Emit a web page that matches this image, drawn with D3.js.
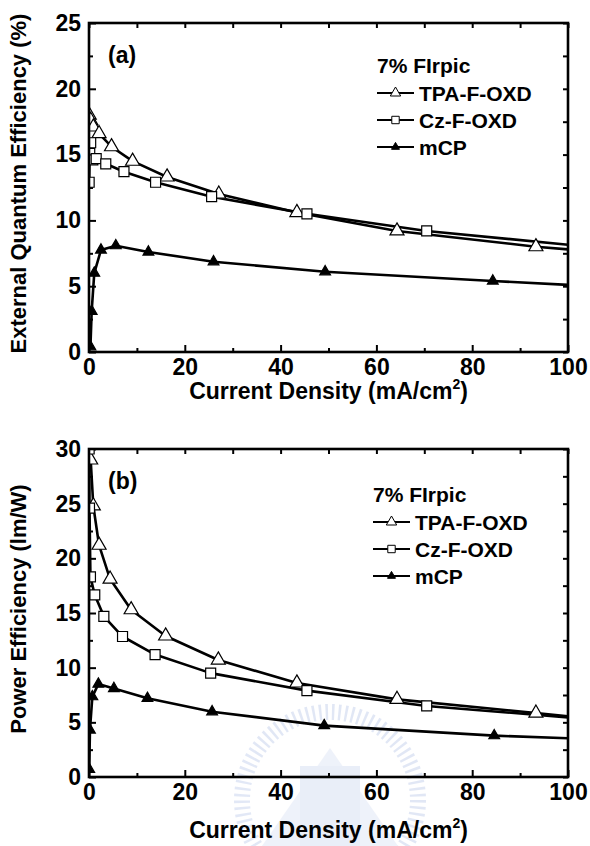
<!DOCTYPE html>
<html>
<head>
<meta charset="utf-8">
<script src="https://cdn.jsdelivr.net/npm/d3@7"></script>
<style>
  body { margin: 0; background: #fff; }
  svg text { font-family: "Liberation Sans", Arial, sans-serif; font-weight: bold; fill: #000; }
</style>
</head>
<body>
<div id="container"></div>
<script>
/* DATA */
const xTicks = [0, 20, 40, 60, 80, 100];
const xMinor = [10, 30, 50, 70, 90];
const eqeTicks = [0, 5, 10, 15, 20, 25];
const peTicks = [0, 5, 10, 15, 20, 25, 30];
const seriesNames = ["TPA-F-OXD", "Cz-F-OXD", "mCP"];
const dopant = "7% FIrpic";

// panel (a): external quantum efficiency (%)
const eqeTpaJ = [0.05, 0.35, 0.9, 2.1, 4.7, 9.1, 16.3, 27.1, 43.4, 64.3, 93.3, 100];
const eqeTpa  = [18.0, 17.6, 17.1, 16.6, 15.6, 14.5, 13.3, 12.0, 10.6, 9.2, 8.0, 7.8];
const eqeCzJ  = [0.03, 0.15, 0.35, 0.8, 1.5, 3.5, 7.3, 13.9, 25.6, 45.5, 70.5, 100];
const eqeCz   = [12.9, 15.1, 15.9, 14.6, 14.7, 14.3, 13.7, 12.9, 11.8, 10.5, 9.2, 8.15];
const eqeMcpJ = [0.3, 0.56, 1.1, 2.5, 5.6, 12.4, 26.0, 49.3, 84.3, 100];
const eqeMcp  = [0.4, 3.1, 6.0, 7.75, 8.08, 7.6, 6.86, 6.1, 5.4, 5.1];

// panel (b): power efficiency (lm/W)
const peTpaJ = [0.05, 0.35, 0.9, 2.1, 4.4, 8.8, 16.0, 27.0, 43.4, 64.3, 93.3, 100];
const peTpa  = [31.0, 29.0, 24.8, 21.2, 18.1, 15.3, 12.9, 10.7, 8.6, 7.1, 5.85, 5.55];
const peCzJ  = [0.03, 0.1, 0.3, 1.2, 3.1, 7.0, 13.8, 25.4, 45.5, 70.5, 100];
const peCz   = [30.0, 24.6, 18.3, 16.65, 14.7, 12.85, 11.2, 9.5, 7.9, 6.5, 5.45];
const peMcpJ = [0.05, 0.2, 0.7, 1.95, 5.2, 12.2, 25.7, 49.1, 84.6, 100];
const peMcp  = [0.7, 4.3, 7.35, 8.5, 8.1, 7.2, 5.97, 4.7, 3.78, 3.55];

/* LAYOUT */
const width = 590, height = 846;
const left = 89, right = 568;

const svg = d3.select("#container").append("svg")
  .attr("width", width).attr("height", height);

// faint watermark behind the lower panel
const wm = svg.append("g").attr("opacity", 0.3);
wm.append("circle").attr("cx", 330).attr("cy", 800).attr("r", 88)
  .attr("fill", "none").attr("stroke", "#9fb3e0").attr("stroke-width", 16)
  .attr("stroke-dasharray", "2.5 4");
wm.append("path").attr("d", "M262,846 L330,748 L398,846 Z")
  .attr("fill", "#c9d5f0");
wm.append("rect").attr("x", 300).attr("y", 766).attr("width", 60).attr("height", 80)
  .attr("fill", "#b8c8ea");

const x = d3.scaleLinear().domain([0, 100]).range([left, right]);

const zip = (js, vs) => js.map((j, i) => ({ j, v: vs[i] }));

function panel(cfg) {
  const y = d3.scaleLinear().domain(cfg.domain).range([cfg.bottom, cfg.top]);
  const g = svg.append("g");
  const clipId = "clip-" + cfg.id;
  svg.append("clipPath").attr("id", clipId).append("rect")
    .attr("x", left).attr("y", cfg.top)
    .attr("width", right - left).attr("height", cfg.bottom - cfg.top);

  // ticks (inward, all four sides)
  const minorY = d3.range(cfg.domain[0] + 2.5, cfg.domain[1], 5);
  const tickStyle = sel => {
    sel.select(".domain").remove();
    sel.selectAll("line").attr("stroke", "#000").attr("stroke-width", 2);
  };
  g.append("g").attr("transform", `translate(0,${cfg.bottom})`)
    .call(d3.axisBottom(x).tickValues(xTicks).tickSizeInner(-7).tickSizeOuter(0).tickPadding(7))
    .call(tickStyle)
    .call(a => a.selectAll("text").attr("font-size", 23).attr("dy", "0.71em"));
  g.append("g").attr("transform", `translate(0,${cfg.bottom})`)
    .call(d3.axisBottom(x).tickValues(xMinor).tickSizeInner(-4).tickSizeOuter(0).tickFormat(""))
    .call(tickStyle);
  g.append("g").attr("transform", `translate(0,${cfg.top})`)
    .call(d3.axisTop(x).tickValues(xTicks.concat(xMinor)).tickSizeInner(-5).tickSizeOuter(0).tickFormat(""))
    .call(tickStyle);
  g.append("g").attr("transform", `translate(${left},0)`)
    .call(d3.axisLeft(y).tickValues(cfg.ticks).tickSizeInner(-7).tickSizeOuter(0).tickPadding(8))
    .call(tickStyle)
    .call(a => a.selectAll("text").attr("font-size", 23));
  g.append("g").attr("transform", `translate(${left},0)`)
    .call(d3.axisLeft(y).tickValues(minorY).tickSizeInner(-4).tickSizeOuter(0).tickFormat(""))
    .call(tickStyle);
  g.append("g").attr("transform", `translate(${right},0)`)
    .call(d3.axisRight(y).tickValues(cfg.ticks.concat(minorY)).tickSizeInner(-5).tickSizeOuter(0).tickFormat(""))
    .call(tickStyle);

  // curves
  const line = d3.line().x(d => x(d.j)).y(d => y(d.v));
  const plot = g.append("g").attr("clip-path", `url(#${clipId})`);
  cfg.series.forEach(s => {
    plot.append("path").datum(s.data)
      .attr("d", line).attr("fill", "none")
      .attr("stroke", "#000").attr("stroke-width", 2.6).attr("stroke-linejoin", "round");
  });
  cfg.series.forEach(s => {
    plot.selectAll(null).data(s.data.filter(d => d.j < 100)).join("path")
      .attr("transform", d => `translate(${x(d.j)},${y(d.v)})`)
      .attr("d", d3.symbol(s.shape, s.size))
      .attr("fill", s.fill).attr("stroke", "#000").attr("stroke-width", 1.2);
  });

  // frame
  g.append("rect").attr("x", left).attr("y", cfg.top)
    .attr("width", right - left).attr("height", cfg.bottom - cfg.top)
    .attr("fill", "none").attr("stroke", "#000").attr("stroke-width", 2.6);

  // axis titles
  const xt = g.append("text").attr("x", (left + right) / 2).attr("y", cfg.xTitleY)
    .attr("text-anchor", "middle").attr("font-size", 23);
  xt.append("tspan").text("Current Density (mA/cm");
  xt.append("tspan").text("2").attr("font-size", 14).attr("dy", -10);
  xt.append("tspan").text(")").attr("dy", 10);
  g.append("text")
    .attr("transform", `translate(26,${(cfg.top + cfg.bottom) / 2 - 4}) rotate(-90)`)
    .attr("text-anchor", "middle").attr("font-size", 22).text(cfg.yTitle);

  // panel letter
  g.append("text").attr("x", 108).attr("y", cfg.top + 40).attr("font-size", 23).text(cfg.tag);

  // legend
  const lg = g.append("g").attr("transform", `translate(${cfg.legendX},${cfg.legendY})`);
  lg.append("text").attr("x", 0).attr("y", 7).attr("font-size", 21).text(dopant);
  cfg.series.forEach((s, i) => {
    const ly = 27 * (i + 1);
    lg.append("line").attr("x1", 0).attr("x2", 37).attr("y1", ly).attr("y2", ly)
      .attr("stroke", "#000").attr("stroke-width", 2.2);
    lg.append("path").attr("transform", `translate(18.5,${ly})`)
      .attr("d", d3.symbol(s.shape, s.size * 0.55))
      .attr("fill", s.fill).attr("stroke", "#000").attr("stroke-width", 1);
    lg.append("text").attr("x", 42).attr("y", ly + 7.5).attr("font-size", 21).text(s.name);
  });
}

const styles = [
  { shape: d3.symbolTriangle, size: 85, fill: "#fff" },
  { shape: d3.symbolSquare, size: 100, fill: "#fff" },
  { shape: d3.symbolTriangle, size: 50, fill: "#000" }
];

panel({
  id: "a", tag: "(a)", domain: [0, 25], ticks: eqeTicks, top: 23, bottom: 352,
  yTitle: "External Quantum Efficiency (%)", xTitleY: 399,
  legendX: 377, legendY: 66,
  series: [
    Object.assign({ name: seriesNames[0], data: zip(eqeTpaJ, eqeTpa) }, styles[0]),
    Object.assign({ name: seriesNames[1], data: zip(eqeCzJ, eqeCz) }, styles[1]),
    Object.assign({ name: seriesNames[2], data: zip(eqeMcpJ, eqeMcp) }, styles[2])
  ]
});

panel({
  id: "b", tag: "(b)", domain: [0, 30], ticks: peTicks, top: 449, bottom: 777,
  yTitle: "Power Efficiency (lm/W)", xTitleY: 838,
  legendX: 373, legendY: 495,
  series: [
    Object.assign({ name: seriesNames[0], data: zip(peTpaJ, peTpa) }, styles[0]),
    Object.assign({ name: seriesNames[1], data: zip(peCzJ, peCz) }, styles[1]),
    Object.assign({ name: seriesNames[2], data: zip(peMcpJ, peMcp) }, styles[2])
  ]
});
</script>
</body>
</html>
